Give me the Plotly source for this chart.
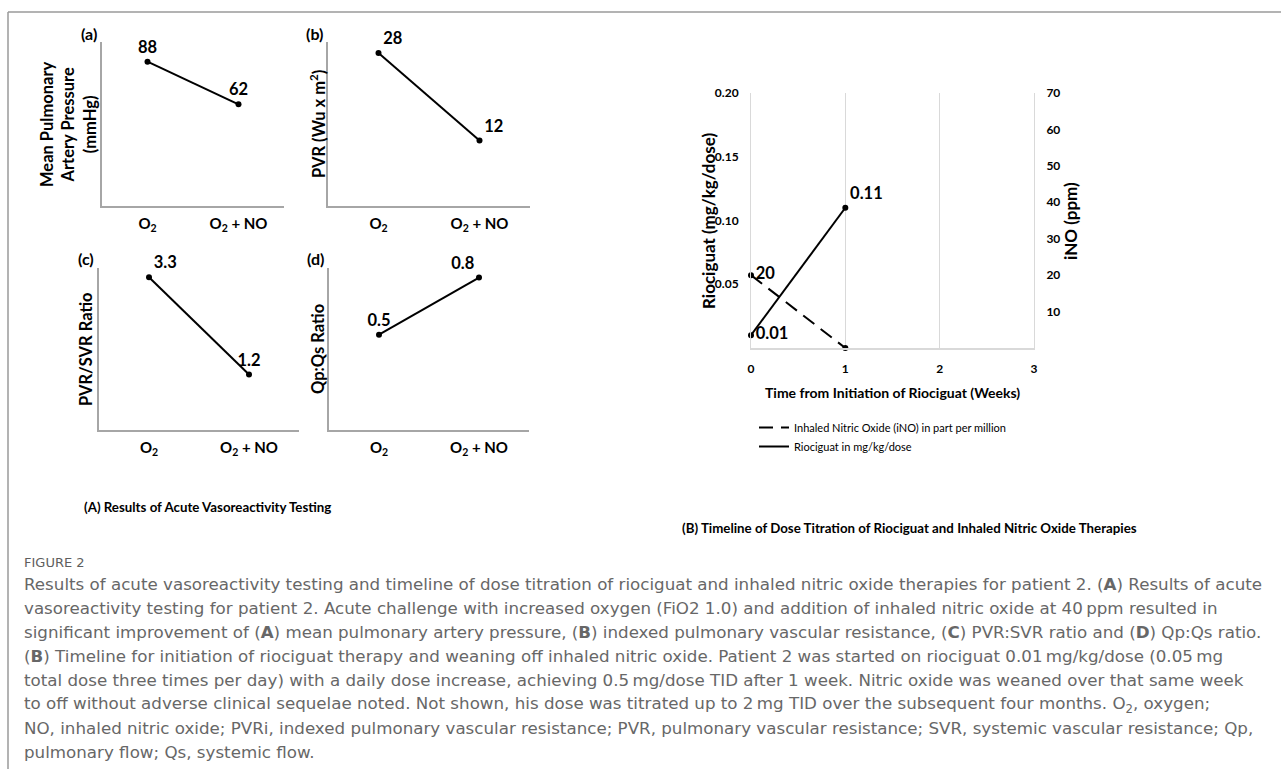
import plotly.graph_objects as go

W, H = 1281, 769

# ---------------- data ----------------
categories = ["O<sub>2</sub>", "O<sub>2</sub> + NO"]
mpap = [88, 62]
pvr = [28, 12]
pvr_svr = [3.3, 1.2]
qp_qs = [0.5, 0.8]

weeks = [0, 1]
riociguat = [0.01, 0.11]
ino = [20, 0]
riociguat_labels = ["0.01", "0.11"]
ino_labels = ["20", ""]
week_ticks = [0, 1, 2, 3]
rio_ticks = [0.05, 0.10, 0.15, 0.20]
ino_ticks = [10, 20, 30, 40, 50, 60, 70]

caption_lines = [
    "Results of acute vasoreactivity testing and timeline of dose titration of riociguat and inhaled nitric oxide therapies for patient 2. (<b>A</b>) Results of acute",
    "vasoreactivity testing for patient 2. Acute challenge with increased oxygen (FiO2 1.0) and addition of inhaled nitric oxide at 40\u2009ppm resulted in",
    "significant improvement of (<b>A</b>) mean pulmonary artery pressure, (<b>B</b>) indexed pulmonary vascular resistance, (<b>C</b>) PVR:SVR ratio and (<b>D</b>) Qp:Qs ratio.",
    "(<b>B</b>) Timeline for initiation of riociguat therapy and weaning off inhaled nitric oxide. Patient 2 was started on riociguat 0.01\u2009mg/kg/dose (0.05\u2009mg",
    "total dose three times per day) with a daily dose increase, achieving 0.5\u2009mg/dose TID after 1 week. Nitric oxide was weaned over that same week",
    "to off without adverse clinical sequelae noted. Not shown, his dose was titrated up to 2\u2009mg TID over the subsequent four months. O<sub>2</sub>, oxygen;",
    "NO, inhaled nitric oxide; PVRi, indexed pulmonary vascular resistance; PVR, pulmonary vascular resistance; SVR, systemic vascular resistance; Qp,",
    "pulmonary flow; Qs, systemic flow.",
]


def fx(p):
    return p / W


def fy(p):
    return 1 - p / H


BOLD = "Lato"
AXC = "#a6a6a6"
CAPF = "DejaVu Sans"

panels = [
    dict(lab="(a)", vals=mpap, rng=[0, 100], xd=(102, 284), yd=(42, 206),
         tpos=["top center", "top center"],
         title="Mean Pulmonary<br>Artery Pressure<br>(mmHg)", tx=68),
    dict(lab="(b)", vals=pvr, rng=[0, 30], xd=(328, 530), yd=(42, 206),
         tpos=["top right", "top right"], title="PVR (Wu x m<sup>2</sup>)", tx=318),
    dict(lab="(c)", vals=pvr_svr, rng=[0, 3.5], xd=(99, 299), yd=(268, 430),
         tpos=["top right", "top center"], title="PVR/SVR Ratio", tx=86),
    dict(lab="(d)", vals=qp_qs, rng=[0, 0.85], xd=(329, 529), yd=(268, 430),
         tpos=["top center", "top left"], title="Qp:Qs Ratio", tx=318),
]

fig = go.Figure()
annotations = []
layout_axes = {}

for i, p in enumerate(panels):
    n = i + 1
    xa = "x" if n == 1 else f"x{n}"
    ya = "y" if n == 1 else f"y{n}"
    fig.add_trace(go.Scatter(
        x=[0, 1], y=p["vals"], xaxis=xa, yaxis=ya,
        mode="lines+markers+text",
        text=[str(v) for v in p["vals"]], textposition=p["tpos"],
        textfont=dict(family=BOLD, size=16.5, color="black", weight="bold"),
        line=dict(color="black", width=2), marker=dict(color="black", size=6),
        showlegend=False, hoverinfo="skip", cliponaxis=False,
    ))
    layout_axes["xaxis" if n == 1 else f"xaxis{n}"] = dict(
        domain=[fx(p["xd"][0]), fx(p["xd"][1])], range=[-0.5, 1.5],
        tickvals=[0, 1], ticktext=categories, showline=True, linecolor=AXC,
        linewidth=1.5, showgrid=False, zeroline=False, ticks="",
        tickfont=dict(family=BOLD, size=15, color="black", weight="bold"),
        ticklabelstandoff=3, anchor=ya, fixedrange=True, automargin=False,
    )
    layout_axes["yaxis" if n == 1 else f"yaxis{n}"] = dict(
        domain=[fy(p["yd"][1]), fy(p["yd"][0])], range=p["rng"],
        showline=True, linecolor=AXC, linewidth=1.5, showticklabels=False,
        showgrid=False, zeroline=False, ticks="", anchor=xa, fixedrange=True,
        automargin=False,
    )
    annotations.append(dict(
        text=p["lab"], xref="paper", yref="paper", x=fx(p["xd"][0] - 3),
        y=fy(p["yd"][0] - 9), xanchor="right", yanchor="middle", showarrow=False,
        font=dict(family=BOLD, size=16, color="black", weight="bold"),
    ))
    annotations.append(dict(
        text=p["title"], xref="paper", yref="paper", x=fx(p["tx"]),
        y=fy((p["yd"][0] + p["yd"][1]) / 2), textangle=-90, showarrow=False,
        xanchor="center", yanchor="middle",
        font=dict(family=BOLD, size=16.5, color="black", weight="bold"),
    ))

# ---------------- right chart ----------------
line_style_ino = dict(color="black", width=2, dash="14px,8px")
line_style_rio = dict(color="black", width=2)
fig.add_trace(go.Scatter(
    x=weeks, y=ino, xaxis="x5", yaxis="y6", mode="lines",
    name="Inhaled Nitric Oxide (iNO) in part per million",
    line=line_style_ino, hoverinfo="skip",
))
fig.add_trace(go.Scatter(
    x=weeks, y=riociguat, xaxis="x5", yaxis="y5", mode="lines",
    name="Riociguat in mg/kg/dose", line=line_style_rio, hoverinfo="skip",
))
fig.add_trace(go.Scatter(
    x=weeks, y=ino, xaxis="x5", yaxis="y6", mode="markers+text",
    text=ino_labels, textposition="middle right",
    textfont=dict(family=BOLD, size=16.5, color="black", weight="bold"),
    marker=dict(color="black", size=6), hoverinfo="skip", cliponaxis=False,
    showlegend=False,
))
fig.add_trace(go.Scatter(
    x=weeks, y=riociguat, xaxis="x5", yaxis="y5", mode="markers+text",
    text=riociguat_labels, textposition=["middle right", "top right"],
    textfont=dict(family=BOLD, size=16.5, color="black", weight="bold"),
    marker=dict(color="black", size=6), hoverinfo="skip", cliponaxis=False,
    showlegend=False,
))

GRID = "#d9d9d9"
tickf = dict(family=BOLD, size=12, color="black", weight="bold")
layout_axes["xaxis5"] = dict(
    domain=[fx(751), fx(1034)], range=[0, 3], tickvals=week_ticks,
    showgrid=True, gridcolor=GRID, gridwidth=1, showline=True, linecolor=GRID,
    linewidth=1.5, zeroline=False, ticks="", tickfont=tickf,
    ticklabelstandoff=9, anchor="y5", fixedrange=True, automargin=False,
)
layout_axes["yaxis5"] = dict(
    domain=[fy(348), fy(93)], range=[0, 0.2], tickvals=rio_ticks,
    tickformat=".2f", showgrid=False, zeroline=False, ticks="",
    showline=True, linecolor=GRID, linewidth=1, tickfont=tickf,
    ticklabelstandoff=9, anchor="x5", fixedrange=True, automargin=False,
)
layout_axes["yaxis6"] = dict(
    domain=[fy(348), fy(93)], range=[0, 70], tickvals=ino_ticks,
    overlaying="y5", side="right", showgrid=False, zeroline=False, ticks="",
    showline=True, linecolor=GRID, linewidth=1, tickfont=tickf,
    ticklabelstandoff=9, anchor="x5", fixedrange=True, automargin=False,
)

annotations += [
    dict(text="Riociguat (mg/kg/dose)", x=fx(708), y=fy(221), textangle=-90,
         font=dict(family=BOLD, size=17, color="black", weight="bold")),
    dict(text="iNO (ppm)", x=fx(1070), y=fy(221), textangle=-90,
         font=dict(family=BOLD, size=17, color="black", weight="bold")),
    dict(text="Time from Initiation of Riociguat (Weeks)", x=fx(892), y=fy(392),
         font=dict(family=BOLD, size=14, color="black", weight="bold")),
]
for a in annotations[-3:]:
    a.update(xref="paper", yref="paper", showarrow=False, xanchor="center",
             yanchor="middle")

# sub-figure titles
annotations.append(dict(
    text="(A) Results of Acute Vasoreactivity Testing", x=fx(207), y=fy(507),
    xref="paper", yref="paper", showarrow=False, xanchor="center", yanchor="middle",
    font=dict(family=BOLD, size=13.3, color="black", weight="bold")))
annotations.append(dict(
    text="(B) Timeline of Dose Titration of Riociguat and Inhaled Nitric Oxide Therapies",
    x=fx(909), y=fy(528), xref="paper", yref="paper", showarrow=False,
    xanchor="center", yanchor="middle",
    font=dict(family=BOLD, size=13.3, color="black", weight="bold")))

# caption
annotations.append(dict(
    text="FIGURE 2", x=fx(22), y=fy(562), xref="paper", yref="paper",
    showarrow=False, xanchor="left", yanchor="middle",
    font=dict(family=CAPF, size=13, color="#5e5e5e")))
for k, line in enumerate(caption_lines):
    annotations.append(dict(
        text=line, x=fx(22), y=fy(584 + 24 * k), xref="paper", yref="paper",
        showarrow=False, xanchor="left", yanchor="middle",
        font=dict(family=CAPF, size=16.7, color="#676767")))

shapes = [
    dict(type="line", xref="paper", yref="paper", x0=fx(8), x1=1, y0=fy(12), y1=fy(12),
         line=dict(color="#9a9a9a", width=1.5)),
    dict(type="line", xref="paper", yref="paper", x0=fx(8), x1=fx(8), y0=fy(12), y1=0,
         line=dict(color="#9a9a9a", width=1.5)),
]

fig.update_layout(
    width=W, height=H,
    margin=dict(l=0, r=0, t=0, b=0, pad=0, autoexpand=False),
    paper_bgcolor="white", plot_bgcolor="white",
    annotations=annotations, shapes=shapes,
    showlegend=True,
    legend=dict(x=fx(754), y=fy(413), xanchor="left", yanchor="top",
                font=dict(family="Lato", size=11, color="black"),
                itemwidth=30, bgcolor="rgba(0,0,0,0)", traceorder="normal"),
    **layout_axes,
)

fig.write_html(
    "out.html",
    config={"displayModeBar": False},
    post_script="document.body.style.margin='0px';document.body.style.overflow='hidden';",
)
